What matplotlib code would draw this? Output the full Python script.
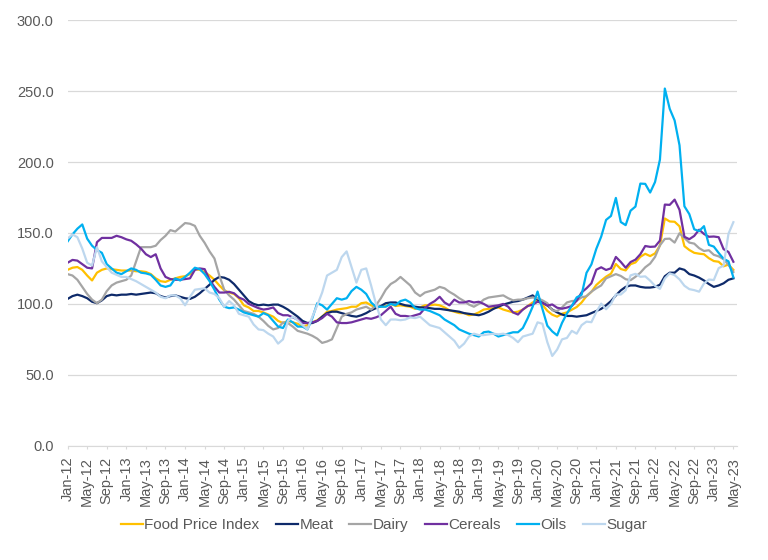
import numpy as np
import pandas as pd
import matplotlib
matplotlib.use("Agg")
import matplotlib.pyplot as plt

plt.rcParams['font.family'] = ['Liberation Sans', 'DejaVu Sans']

# monthly, Jan-12 .. May-23
months = pd.date_range('2012-01-01', '2023-05-01', freq='MS')

food = [124, 125.5, 126, 124, 120, 116.5, 122, 124, 125, 124.5, 124, 123.5,
        123.5, 123.5, 123, 123, 122.5, 121, 118, 116, 115.5, 117, 118, 119,
        119.5, 121, 124.5, 124, 122.5, 120, 117, 113, 109.5, 108, 107, 104,
        99, 97.5, 95, 95, 94, 92.5, 91, 88, 86.5, 88, 87, 86,
        84, 85, 87, 88.5, 91, 94.5, 95, 96, 96.5, 97, 98, 98,
        100.5, 101, 99, 97.5, 98, 98.5, 100, 98.5, 99, 98.5, 98, 96.5,
        97.5, 99, 99, 99.5, 99, 97.5, 95.5, 94.5, 93.5, 93.5, 92, 92.5,
        94, 96, 96.5, 97, 97.5, 96, 95, 94, 94.5, 96, 98.5, 101,
        102.5, 99.4, 95.1, 92.4, 91.0, 93.1, 94.0, 95.9, 97.8, 101.0, 105.5, 108.5,
        113.3, 116.4, 119.2, 121.3, 128.1, 124.6, 123.6, 128.0, 129.2, 133.2, 135.3, 133.7,
        135.6, 141.1, 160.2, 158.1, 157.9, 154.7, 140.7, 138.0, 136.0, 135.4, 135.0, 132.2,
        130.2, 129.7, 126.5, 127.7, 124.0]

meat = [103.5, 105.5, 106.5, 105.5, 104, 101.5, 100.5, 102.5, 105.5, 106.5, 106, 106.5,
        106.5, 107, 106.5, 107, 107.5, 108, 107.5, 105.5, 104.5, 105.5, 106, 105,
        104, 103.5, 105, 107.5, 110.5, 113.5, 117, 119, 118.5, 117, 114, 110,
        106, 102, 100, 99, 99.5, 99, 99.5, 99.5, 98, 96, 93.5, 91,
        88, 86.5, 86.5, 88, 91, 93.5, 94.5, 94.5, 93.5, 92.5, 91.5, 91,
        92, 93.5, 95.5, 97, 98.5, 100.5, 101, 101, 100, 99, 98.5, 98,
        97.5, 97.5, 97, 96.5, 96.5, 96, 95.5, 95, 94.5, 93.5, 93, 92.5,
        92, 93, 94.5, 96.5, 98, 99.5, 100.5, 101.5, 102, 103, 104.5, 106,
        103, 101, 99, 96, 94, 92.5, 91.5, 91.5, 91, 91.5, 92, 93.5,
        95, 96.5, 99, 102, 106, 109.5, 112, 113, 113, 112, 111.5, 111.5,
        112, 113.5, 119.5, 122, 122, 125, 124, 121, 120, 118.5, 116.5, 114,
        112, 113, 114.5, 117, 118]

dairy = [121, 120, 117, 112, 107, 103, 100.5, 103, 109, 113, 115, 116,
         117, 120, 130, 140, 140, 140, 141, 145, 148, 152, 151, 154,
         157, 156.5, 155, 148, 143, 137, 132, 120, 110, 106, 103, 99,
         95, 94, 93, 91, 88, 84.5, 82, 83, 87, 86.5, 84, 81,
         80, 79, 77.5, 75.5, 72.5, 73.5, 75, 83, 91, 93, 94, 96,
         97, 98, 96, 99, 104, 110, 114, 116, 119, 116, 113, 108,
         105.5, 108, 109, 110, 112, 111, 108.5, 106.5, 104, 102, 99.5, 98,
         100, 103, 104.5, 105, 105.5, 106, 104, 102.5, 103, 103, 104, 104.5,
         104, 102.5, 100.5, 95.5, 95, 97.5, 101, 102, 102.3, 104.6, 105.4, 108.6,
         111, 113, 118, 119.5, 121, 119.7, 117.4, 116.7, 119.1, 122, 125.8, 128.4,
         133.1, 141.3, 145.8, 146, 143.2, 149.8, 146.4, 143.2, 142.5, 139.3, 137.3, 137.8,
         134.6, 133.5, 131.5, 127.5, 122.5]

cereals = [129, 131, 130.5, 128, 125.5, 125, 143.5, 146.5, 146.5, 146.5, 148, 147,
           145.5, 144.5, 142, 139, 135, 133, 135, 125, 119, 117.5, 117, 117,
           117.5, 118, 124, 125, 124.5, 117, 112, 108, 108, 108.5, 107.5, 104.5,
           103, 100, 98.5, 97, 96, 96.5, 97.5, 93.5, 92, 92, 90.5, 89,
           86.5, 86.5, 87, 88, 90, 93, 91, 87, 86.5, 86.5, 87, 88,
           89, 90, 89.5, 90.5, 92, 95, 98, 93, 91.5, 91.5, 91, 92,
           93, 97, 100, 102, 105, 101, 99, 103, 101, 101, 102, 101,
           101.5, 100, 98, 98.5, 99, 100, 98, 94, 92.5, 96, 98.5, 99.5,
           101.5, 100.7, 98.8, 99.6, 97.3, 96.6, 97.4, 98.5, 102.3, 108.1, 111, 114.5,
           124.1, 125.8, 123.9, 125.1, 133.1, 129.6, 125.5, 129.5, 131.2, 135.0, 140.8, 140.2,
           140.4, 144.6, 170.0, 169.8, 173.5, 166.3, 147.3, 145.6, 147.9, 152.3, 149.3, 147.3,
           147.5, 147.0, 138.6, 136.6, 129.7]

oils = [144, 149, 153, 156, 146, 141, 138, 136, 128, 125, 122, 121,
        123, 125, 124, 122, 121.5, 120.5, 117, 113, 112, 113, 118, 116.5,
        119, 122, 125.5, 124.5, 121, 116, 110, 103, 98, 97, 97.5, 96,
        94, 93, 92, 91, 93.5, 92, 88, 84, 83, 89, 87, 84,
        84, 82, 90, 100.5, 99, 96, 100, 104, 103, 104, 109, 112,
        110, 107, 101, 98, 98, 98, 100, 99, 102, 103, 101, 97,
        96, 96, 95, 93.5, 92, 89, 87, 85, 82, 80.5, 79, 78,
        77, 80, 80.5, 79, 77, 78, 79, 80, 80, 83, 90, 98,
        108.7, 96.4, 84.6, 80.6, 77.8, 86.6, 93.2, 98.7, 104.6, 106.4, 121.9, 127.8,
        138.8, 147.4, 159.2, 162, 174.7, 157.7, 155.5, 165.7, 168.6, 184.8, 184.6, 178.5,
        185.9, 201.7, 251.8, 237.5, 229.3, 211.8, 168.8, 163.3, 152.6, 151.3, 154.8, 141.6,
        140.4, 135.9, 131.8, 130.0, 118.7]

sugar = [146, 149, 147, 139, 129, 127, 140, 130, 126, 122, 120.5, 119,
         119, 117.5, 116, 114, 112, 110, 108, 105, 104, 106, 106, 104,
         99, 105, 110, 110.5, 111, 108, 107, 104, 98, 102, 99, 93,
         92, 91, 85.5, 82, 81.5, 79, 77, 72, 75, 88, 91, 88.5,
         85, 82, 91, 99, 108, 120, 122, 124, 133, 137, 126, 115,
         124, 125, 113, 100, 89, 85, 89, 89, 88.5, 89, 90.5, 90,
         91, 88, 85, 84, 83, 80, 77, 74, 69, 72, 77, 79,
         78, 78, 78.5, 79, 78.5, 79, 78, 76, 73, 77, 78, 79,
         87, 86, 73, 63.3, 67.8, 75, 76, 81, 79, 85, 87.5, 87.1,
         94.2, 100.2, 96.2, 100, 106.7, 106.6, 109.6, 120.1, 121.2, 119.1, 119.4, 116.4,
         112.7, 110.6, 117.9, 121.5, 120.3, 117.3, 112.8, 110.4, 109.7, 108.6, 114.4, 117.2,
         116.8, 125.2, 127, 149.4, 157.6]

series = [("Food Price Index", food, "#FFC000"),
          ("Meat", meat, "#0E2A6A"),
          ("Dairy", dairy, "#A5A5A5"),
          ("Cereals", cereals, "#7030A0"),
          ("Oils", oils, "#00B0F0"),
          ("Sugar", sugar, "#BDD7EE")]

fig = plt.figure(figsize=(7.68, 5.6), dpi=100)
ax = fig.add_axes([0.088, 0.204, 0.872, 0.76])

x = np.arange(len(months))
for name, vals, col in series:
    ax.plot(x, vals, color=col, lw=1.6, label=name, solid_joinstyle='round')

ax.set_ylim(0, 300)
ax.set_yticks(np.arange(0, 301, 50))
ax.set_yticklabels([f"{v:.1f}" for v in np.arange(0, 301, 50)])
ax.set_xlim(0, len(months) - 0.2)
tick_pos = x[::4]
ax.set_xticks(tick_pos)
ax.set_xticklabels(months[::4].strftime('%b-%y'), rotation=90)

ax.grid(axis='y', color='#D9D9D9', lw=0.9)
ax.set_axisbelow(True)
for s in ['top', 'right', 'left']:
    ax.spines[s].set_visible(False)
ax.spines['bottom'].set_color('#D9D9D9')
ax.tick_params(axis='y', length=0, labelsize=10.5, labelcolor='#595959', pad=10)
ax.tick_params(axis='x', length=2.5, color='#D9D9D9', labelsize=10.5,
               labelcolor='#595959', pad=5.5)

fig.legend(loc='center', bbox_to_anchor=(0.5, 0.062), ncol=6, frameon=False,
           fontsize=11, handlelength=1.45, handletextpad=0.1, columnspacing=1.05,
           labelcolor='#595959')

fig.savefig('out.png', dpi=100)
